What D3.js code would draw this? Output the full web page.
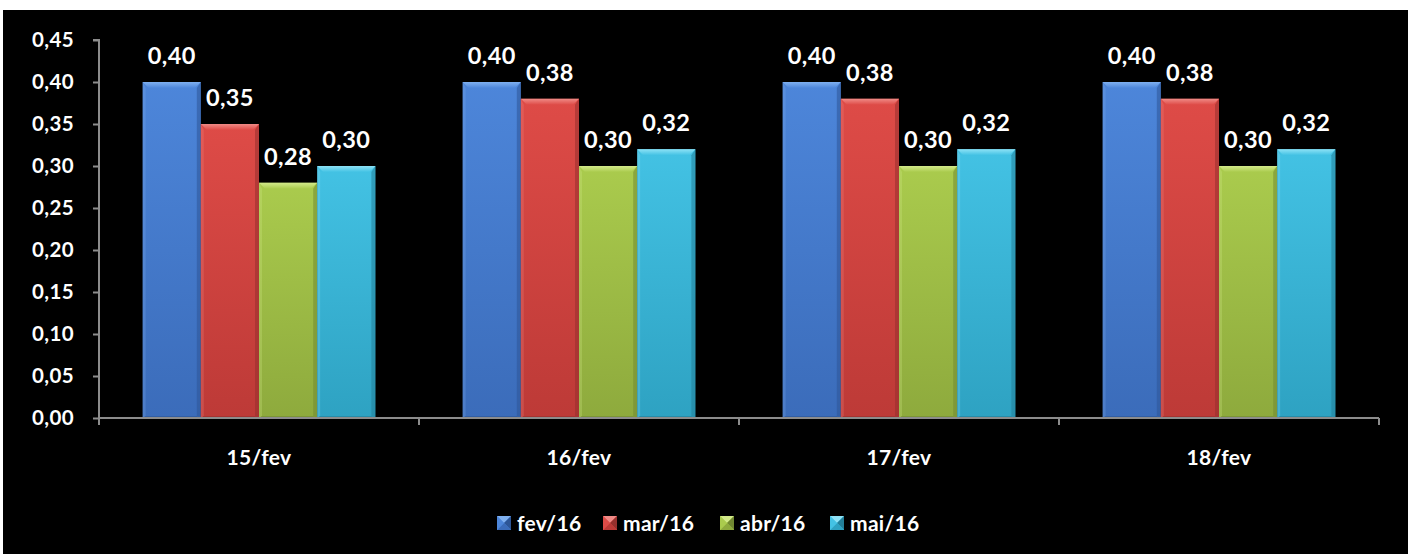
<!DOCTYPE html>
<html>
<head>
<meta charset="utf-8">
<script src="https://cdn.jsdelivr.net/npm/d3@7/dist/d3.min.js"></script>
<style>
  html, body { margin: 0; padding: 0; background: #000; overflow: hidden; }
  svg { display: block; }
  text { font-family: Lato, "Open Sans", sans-serif; font-weight: 700; fill: #fff; }
</style>
</head>
<body>
<svg id="chart" width="1408" height="554"></svg>
<script>
// Categories (dates) and series (reference months)
const categories = ["15/fev", "16/fev", "17/fev", "18/fev"];
const seriesNames = ["fev/16", "mar/16", "abr/16", "mai/16"];
const fev16 = [0.40, 0.40, 0.40, 0.40];
const mar16 = [0.35, 0.38, 0.38, 0.38];
const abr16 = [0.28, 0.30, 0.30, 0.30];
const mai16 = [0.30, 0.32, 0.32, 0.32];
const yTicks = [0, 0.05, 0.10, 0.15, 0.20, 0.25, 0.30, 0.35, 0.40, 0.45];

// Palette: light (top bevel), top, bottom, dark (side shading)
const palette = {
  "fev/16": { light: "#7fb0f0", top: "#4d86da", bottom: "#3b6cba", dark: "#2d5697" },
  "mar/16": { light: "#f08a86", top: "#de4b47", bottom: "#bd3a37", dark: "#96302d" },
  "abr/16": { light: "#d3ea8a", top: "#aacb4d", bottom: "#8eaa3d", dark: "#718832" },
  "mai/16": { light: "#8ee2f6", top: "#43c2e4", bottom: "#2ea2c2", dark: "#237f99" }
};

const valuesBySeries = { "fev/16": fev16, "mar/16": mar16, "abr/16": abr16, "mai/16": mai16 };

const fmt = v => d3.format(".2f")(v).replace(".", ",");

const svg = d3.select("#chart");
svg.append("rect").attr("width", 1408).attr("height", 554).attr("fill", "#000");
// thin white margin along the top and left edges
svg.append("rect").attr("x", 0).attr("y", 0).attr("width", 1408).attr("height", 10).attr("fill", "#fff");
svg.append("rect").attr("x", 0).attr("y", 0).attr("width", 3).attr("height", 554).attr("fill", "#fff");

const plot = { left: 99, right: 1379, top: 40, bottom: 418 };

const x0 = d3.scaleBand().domain(categories).range([plot.left, plot.right]).paddingInner(0).paddingOuter(0);
const x1 = d3.scaleBand().domain(seriesNames).range([0, x0.bandwidth()]).paddingInner(0).paddingOuter(0.75);
const y = d3.scaleLinear().domain([0, 0.45]).range([plot.bottom, plot.top]);

// Gradients
const defs = svg.append("defs");
seriesNames.forEach((s, i) => {
  const g = defs.append("linearGradient").attr("id", "grad" + i)
    .attr("x1", 0).attr("y1", 0).attr("x2", 0).attr("y2", 1);
  g.append("stop").attr("offset", "0%").attr("stop-color", palette[s].top);
  g.append("stop").attr("offset", "100%").attr("stop-color", palette[s].bottom);
  const gl = defs.append("linearGradient").attr("id", "lgrad" + i)
    .attr("x1", 0).attr("y1", 0).attr("x2", 0).attr("y2", 1);
  gl.append("stop").attr("offset", "0%").attr("stop-color", palette[s].light);
  gl.append("stop").attr("offset", "100%").attr("stop-color", palette[s].top);
});

// Y axis
const yAxis = d3.axisLeft(y).tickValues(yTicks).tickFormat(fmt).tickSize(6).tickPadding(19);
const gy = svg.append("g").attr("transform", `translate(${plot.left},0)`).call(yAxis);
gy.select(".domain").attr("stroke", "#8c8c8c").attr("stroke-width", 2).attr("d", `M-6,${plot.top}H0V${plot.bottom}`);
gy.selectAll(".tick line").attr("stroke", "#8c8c8c").attr("stroke-width", 2);
gy.selectAll(".tick text").attr("font-size", 20.5).attr("fill", "#fff")
  .attr("font-family", "Lato, sans-serif").attr("font-weight", 700).attr("letter-spacing", 0.4);

// Bars
const bevel = 6;
categories.forEach((c, ci) => {
  const g = svg.append("g").attr("transform", `translate(${x0(c)},0)`);
  seriesNames.forEach((s, si) => {
    const v = valuesBySeries[s][ci];
    const bx = x1(s), bw = x1.bandwidth();
    const by = y(v), bh = y(0) - y(v);
    const p = palette[s];
    g.append("rect").attr("x", bx).attr("y", by).attr("width", bw).attr("height", bh)
      .attr("fill", `url(#grad${si})`);
    // right side bevel
    g.append("polygon")
      .attr("points", [[bx + bw, by], [bx + bw - 4, by + bevel], [bx + bw - 4, by + bh - 2], [bx + bw, by + bh]].join(" "))
      .attr("fill", p.dark).attr("opacity", 0.55);
    // left side bevel
    g.append("polygon")
      .attr("points", [[bx, by], [bx + 3, by + bevel], [bx + 3, by + bh - 2], [bx, by + bh]].join(" "))
      .attr("fill", p.light).attr("opacity", 0.25);
    // bottom bevel
    g.append("polygon")
      .attr("points", [[bx, by + bh], [bx + 3, by + bh - 2], [bx + bw - 4, by + bh - 2], [bx + bw, by + bh]].join(" "))
      .attr("fill", p.dark).attr("opacity", 0.6);
    // top bevel
    g.append("polygon")
      .attr("points", [[bx, by], [bx + bw, by], [bx + bw - bevel, by + bevel], [bx + bevel, by + bevel]].join(" "))
      .attr("fill", `url(#lgrad${si})`);
    // value label
    g.append("text").attr("x", bx + bw / 2).attr("y", by - 18)
      .attr("text-anchor", "middle").attr("font-size", 23.5).attr("letter-spacing", 0.4).text(fmt(v));
  });
});

// X axis
const gx = svg.append("g");
gx.append("line").attr("x1", plot.left).attr("x2", plot.right).attr("y1", plot.bottom).attr("y2", plot.bottom)
  .attr("stroke", "#8c8c8c").attr("stroke-width", 2);
const boundaries = categories.map(c => x0(c)).concat([x0(categories[categories.length - 1]) + x0.bandwidth()]);
gx.selectAll("line.tk").data(boundaries).enter().append("line").attr("class", "tk")
  .attr("x1", d => d).attr("x2", d => d).attr("y1", plot.bottom).attr("y2", plot.bottom + 7)
  .attr("stroke", "#8c8c8c").attr("stroke-width", 2);
gx.selectAll("text").data(categories).enter().append("text")
  .attr("x", d => x0(d) + x0.bandwidth() / 2).attr("y", 465)
  .attr("text-anchor", "middle").attr("font-size", 21).attr("letter-spacing", 0.3).text(d => d);

// Legend
const legendX = [497, 603, 720, 830];
const lg = svg.append("g");
seriesNames.forEach((s, i) => {
  const p = palette[s];
  const lx = legendX[i], ly = 516, sz = 14;
  const item = lg.append("g");
  item.append("rect").attr("x", lx).attr("y", ly).attr("width", sz).attr("height", sz).attr("fill", p.top);
  item.append("polygon").attr("points", [[lx, ly], [lx + sz, ly], [lx + sz / 2, ly + sz / 2]].join(" ")).attr("fill", p.light);
  item.append("polygon").attr("points", [[lx + sz, ly], [lx + sz, ly + sz], [lx + sz / 2, ly + sz / 2]].join(" ")).attr("fill", p.dark);
  item.append("polygon").attr("points", [[lx, ly + sz], [lx + sz, ly + sz], [lx + sz / 2, ly + sz / 2]].join(" ")).attr("fill", p.bottom);
  item.append("polygon").attr("points", [[lx, ly], [lx, ly + sz], [lx + sz / 2, ly + sz / 2]].join(" ")).attr("fill", p.top);
  item.append("text").attr("x", lx + sz + 6).attr("y", ly + sz + 0.5).attr("font-size", 21).attr("letter-spacing", 0.3).text(s);
});
</script>
</body>
</html>
